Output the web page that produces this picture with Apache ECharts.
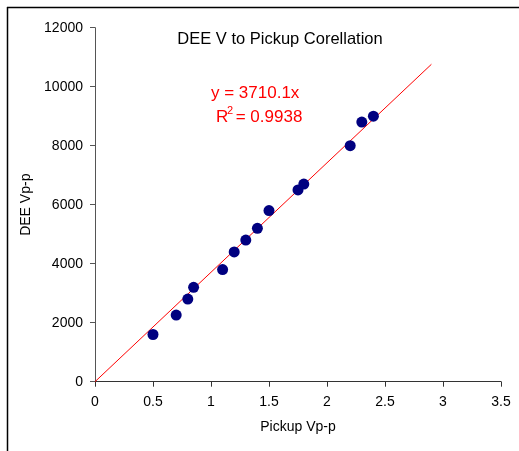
<!DOCTYPE html>
<html>
<head>
<meta charset="utf-8">
<script src="https://cdn.jsdelivr.net/npm/echarts@6/dist/echarts.min.js"></script>
<style>
html,body{margin:0;padding:0;background:#fff;}
#c{width:519px;height:451px;}
</style>
</head>
<body>
<div id="c"></div>
<script>
var pickup = [0.5, 0.7, 0.8, 0.85, 1.1, 1.2, 1.3, 1.4, 1.5, 1.75, 1.8, 2.2, 2.3, 2.4];
var dee = [1600, 2260, 2800, 3200, 3800, 4400, 4800, 5200, 5800, 6500, 6700, 8000, 8800, 9000];
var trendX = [0, 2.9];
var slope = 3710.1;
var r2 = '0.9938';
var xTicks = [0, 0.5, 1, 1.5, 2, 2.5, 3, 3.5];
var yTicks = [0, 2000, 4000, 6000, 8000, 10000, 12000];

var pts = pickup.map(function (x, i) { return [x, dee[i]]; });
var trend = trendX.map(function (x) { return [x, slope * x]; });
var font = 'Arial, "Liberation Sans", sans-serif';

var chart = echarts.init(document.getElementById('c'));
chart.setOption({
  animation: false,
  backgroundColor: '#fff',
  title: {
    text: 'DEE V to Pickup Corellation',
    left: 275, top: 26, textAlign: 'center',
    textStyle: { fontFamily: font, fontSize: 16.5, fontWeight: 'normal', color: '#000' }
  },
  graphic: [
    { type: 'line', shape: { x1: 7, y1: 7.5, x2: 519, y2: 7.5 }, style: { stroke: '#000', lineWidth: 1.5 } },
    { type: 'line', shape: { x1: 7.5, y1: 7, x2: 7.5, y2: 451 }, style: { stroke: '#000', lineWidth: 1.5 } },
    {
      type: 'text', left: 211, top: 85,
      style: { text: 'y = ' + slope + 'x', font: '17px ' + font, fill: '#ff0000' }
    },
    {
      type: 'text', left: 216, top: 109,
      style: { text: 'R', font: '17px ' + font, fill: '#ff0000' }
    },
    {
      type: 'text', left: 227, top: 105,
      style: { text: '2', font: '11px ' + font, fill: '#ff0000' }
    },
    {
      type: 'text', left: 231, top: 109,
      style: { text: ' = ' + r2, font: '17px ' + font, fill: '#ff0000' }
    }
  ],
  grid: { left: 95, right: 18, top: 27.7, bottom: 69.3, containLabel: false },
  xAxis: {
    type: 'value', min: xTicks[0], max: xTicks[xTicks.length - 1], interval: 0.5,
    name: 'Pickup Vp-p', nameLocation: 'middle', nameGap: 38,
    nameTextStyle: { fontFamily: font, fontSize: 14, color: '#000' },
    axisLine: { onZero: false, lineStyle: { color: '#333', width: 1 } },
    axisTick: { show: true, inside: false, length: 5, lineStyle: { color: '#333' } },
    axisLabel: { margin: 13, fontFamily: font, fontSize: 14, color: '#000' },
    splitLine: { show: false }
  },
  yAxis: {
    type: 'value', min: yTicks[0], max: yTicks[yTicks.length - 1], interval: 2000,
    name: 'DEE Vp-p', nameLocation: 'middle', nameGap: 56,
    nameTextStyle: { fontFamily: font, fontSize: 14, color: '#000' },
    axisLine: { show: true, onZero: false, lineStyle: { color: '#555', width: 1 } },
    axisTick: { show: true, inside: false, length: 5, lineStyle: { color: '#555' } },
    axisLabel: { margin: 12, fontFamily: font, fontSize: 14, color: '#000', formatter: function (v) { return String(v); } },
    splitLine: { show: false }
  },
  series: [
    {
      type: 'line', data: trend, showSymbol: false, symbol: 'none',
      lineStyle: { color: '#ff0000', width: 1 }, z: 1, silent: true
    },
    {
      type: 'scatter', data: pts, symbol: 'circle', symbolSize: 11,
      itemStyle: { color: '#000080', opacity: 1 }, z: 2
    }
  ]
});
</script>
</body>
</html>
